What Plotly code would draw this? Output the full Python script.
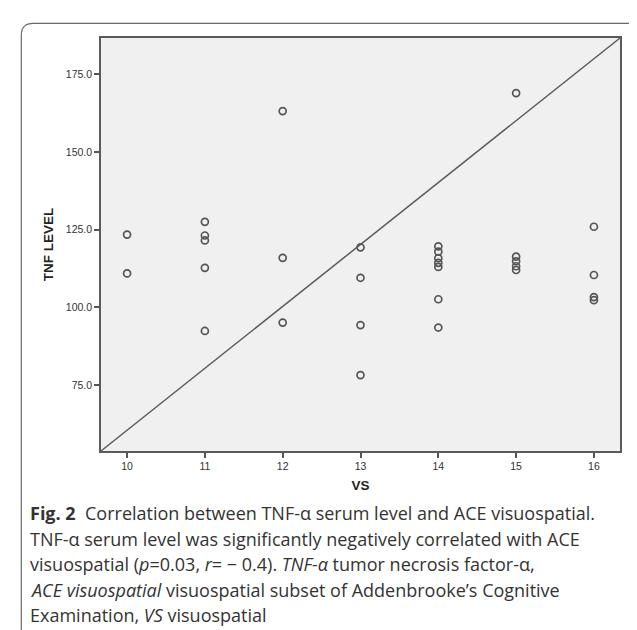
import plotly.graph_objects as go

# ---- data ----
vs_scores = [10, 10,
             11, 11, 11, 11, 11,
             12, 12, 12,
             13, 13, 13, 13,
             14, 14, 14, 14, 14, 14, 14,
             15, 15, 15, 15, 15,
             16, 16, 16, 16]
tnf_levels = [123.4, 110.9,
              127.5, 123.1, 121.5, 112.7, 92.4,
              163.1, 115.9, 95.1,
              119.3, 109.5, 94.3, 78.2,
              119.6, 117.9, 115.8, 114.3, 113.0, 102.6, 93.5,
              168.9, 116.3, 114.8, 113.2, 112.0,
              125.9, 110.4, 103.3, 102.3]
x_ticks = [10, 11, 12, 13, 14, 15, 16]
y_ticks = [75, 100, 125, 150, 175]
x_range = [9.665, 16.335]
y_range = [53.8, 186.6]

caption_lines = [
    "<b>Fig. 2</b>  Correlation between TNF-α serum level and ACE visuospatial.",
    "TNF-α serum level was significantly negatively correlated with ACE",
    "visuospatial (<i>p</i>=0.03, <i>r</i>= − 0.4). <i>TNF-α</i> tumor necrosis factor-α,",
    "<i>ACE visuospatial</i> visuospatial subset of Addenbrooke’s Cognitive",
    "Examination, <i>VS</i> visuospatial",
]

# ---- layout geometry (pixels) ----
W, H = 637, 630
ML, MR, MT, MB = 93, 25, 30, 187
PW, PH = W - ML - MR, H - MT - MB


def px(x):
    return (x - ML) / PW


def py(y):
    return (H - MB - y) / PH


fig = go.Figure()
fig.add_trace(go.Scatter(
    x=vs_scores, y=tnf_levels, mode="markers",
    marker=dict(symbol="circle-open", size=7, color="#555555",
                line=dict(width=1.7, color="#555555")),
    showlegend=False, hoverinfo="x+y"))

axis_font = dict(family="Liberation Sans, Arial, sans-serif", size=10.5, color="#333333")
title_font = dict(family="Liberation Sans, Arial, sans-serif", size=13.5, color="#222222")
fig.update_xaxes(range=x_range, tickvals=x_ticks, ticks="outside", ticklen=5,
                 tickwidth=1.5, tickcolor="#555555", showline=True, mirror=True,
                 linecolor="#5a5a5a", linewidth=1.6, showgrid=False, zeroline=False,
                 tickfont=axis_font,
                 title=dict(text="<b>VS</b>", standoff=9, font=title_font))
fig.update_yaxes(range=y_range, tickvals=y_ticks, tickformat=".1f", ticks="outside",
                 ticklen=5, tickwidth=1.5, tickcolor="#555555", showline=True, mirror=True,
                 linecolor="#5a5a5a", linewidth=1.6, showgrid=False, zeroline=False,
                 tickfont=axis_font,
                 title=dict(text="<b>TNF LEVEL</b>", standoff=9, font=title_font))

shapes = [
    # diagonal reference line corner to corner
    dict(type="line", xref="paper", yref="paper", x0=0, y0=0, x1=1, y1=1,
         line=dict(color="#5a5a5a", width=1.5)),
]
# outer rounded frame
r = 12
fx0, fx1, fy0, fyb = 13.3, 635.0, 15.3, 660
path = (f"M {px(fx0)},{py(fyb)} L {px(fx0)},{py(fy0 + r)} "
        f"Q {px(fx0)},{py(fy0)} {px(fx0 + r)},{py(fy0)} "
        f"L {px(fx1 - r)},{py(fy0)} Q {px(fx1)},{py(fy0)} {px(fx1)},{py(fy0 + r)} "
        f"L {px(fx1)},{py(fyb)}")
shapes.append(dict(type="path", xref="paper", yref="paper", path=path,
                   line=dict(color="#6a6a6a", width=1.2)))

annotations = []
line_y = [505, 530.5, 556, 581.5, 607]
for txt, yy in zip(caption_lines, line_y):
    annotations.append(dict(text=txt, xref="paper", yref="paper", x=px(20), y=py(yy),
                            xanchor="left", yanchor="middle", showarrow=False,
                            font=dict(family="Open Sans, Noto Sans, sans-serif", size=18, color="#333333")))

fig.update_layout(
    width=W, height=H, autosize=False,
    margin=dict(l=ML, r=MR, t=MT, b=MB, pad=0),
    paper_bgcolor="white", plot_bgcolor="#f0f0f0",
    shapes=shapes, annotations=annotations,
)

fig.write_html("out.html")
